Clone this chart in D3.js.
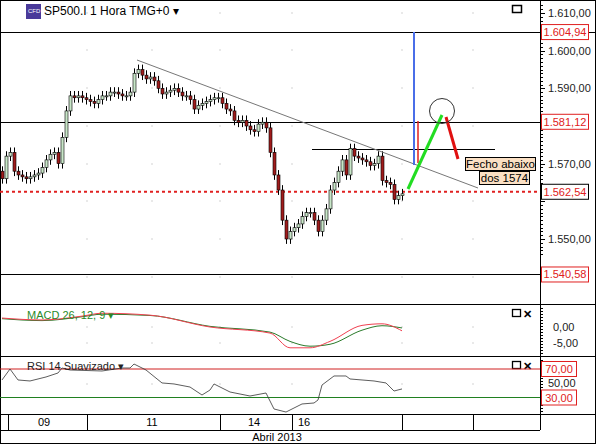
<!DOCTYPE html>
<html><head><meta charset="utf-8">
<script src="https://cdn.jsdelivr.net/npm/d3@7"></script>
<style>body{margin:0;background:#fff}svg{display:block;font-family:Arial,"Liberation Sans",sans-serif}</style>
</head><body><svg id="c" width="596" height="444"></svg>
<script>
const closes=[1566,1572,1573,1568,1567,1566.5,1566,1566.5,1567,1567.5,1569,1571,1572.5,1573,1570,1577,1584,1588,1587.5,1588,1587.5,1587,1586.5,1586,1587,1588,1588,1589,1589,1588.5,1588,1588,1589,1594,1595,1593.5,1592.5,1593,1592,1590,1588.5,1589,1589.5,1590,1589,1588,1588,1587,1584.5,1585.5,1586,1586.5,1587,1587.5,1587.5,1586,1584.5,1584,1581.5,1581,1581.5,1580,1579,1578.5,1580.5,1581,1579.5,1573,1567,1563,1555,1550,1552,1553,1554,1556,1557,1557,1555,1552,1555,1558,1563,1565,1568,1571,1567,1574,1572,1571.5,1571,1570.5,1569.5,1570,1572,1565.5,1565,1564.5,1560.5,1561.5,1562];
const firstOpen=1568;
const macdIdx=[0,10,20,25,37,52,67,72,77,82,90,95,100];
const macdLine=[2.8,2.2,3.4,4.3,3.7,0,-1.9,-6.5,-6.5,-4.5,0.5,1.0,-1.2];
const signalLine=[2.6,2.0,3.2,4.0,3.6,0.2,-1.6,-4.5,-6.0,-5.4,-1.0,0.4,-0.3];
const rsiIdx=[0,2,4,7,11,14,15,17,25,30,32,33,36,40,43,47,50,52,53,57,62,66,68,71,75,78,79,80,83,86,87,90,93,96,98,100];
const rsiVal=[54.6,70,54.6,53.2,58.8,64.4,71.4,68.6,67.2,71.4,71.4,77,68.6,50.4,49,44.7,33.5,40.5,49,37.7,32.1,36.3,13.9,9.6,20.9,22.3,26.5,47.5,60.2,60.2,56,54.6,53.2,50.4,39.1,42];
const priceTicks=[1610,1600,1590,1570,1550];
const priceLabels=[1604.94,1581.12,1562.54,1540.58];
const dayLabels=[{t:"09",x:44},{t:"11",x:152},{t:"14",x:254},{t:"16",x:304}];
const daySeps=[8,87,220,292,402,473];

const svg=d3.select("#c");
const W=596,AX=540;
const fmt=v=>d3.format(",.2f")(v).replace(/,/g,"#").replace(".",",").replace(/#/g,".");
const x=d3.scaleLinear().domain([0,100]).range([2,402]);
const y=d3.scaleLinear().domain([1550,1610]).range([239,13]);
const ym=d3.scaleLinear().domain([-5,0]).range([343,327]);
const yr=d3.scaleLinear().domain([30,70]).range([397.5,369]);

svg.append("rect").attr("x",0.5).attr("y",0.5).attr("width",W-1).attr("height",443).attr("fill","none").attr("stroke","#000");
[32,304,356,414,430].forEach(v=>svg.append("line").attr("x1",0).attr("x2",v==430?AX:W).attr("y1",v+.5).attr("y2",v+.5).attr("stroke","#000"));
svg.append("line").attr("x1",AX+.5).attr("x2",AX+.5).attr("y1",0).attr("y2",430).attr("stroke","#000");
[87,152,220,292,402,473].forEach(gx=>[13,50,88,126,164,201,239,277,327,343,384].forEach(gy=>svg.append("circle").attr("cx",gx).attr("cy",gy).attr("r",.8).attr("fill","#ccc")));

svg.append("rect").attr("x",26).attr("y",4).attr("width",15).attr("height",15).attr("fill","#4a3a9a");
svg.append("text").attr("x",28).attr("y",13).attr("font-size",6).attr("fill","#fff").text("CFD");
svg.append("text").attr("x",44).attr("y",15).attr("font-size",12).text("SP500.I 1 Hora TMG+0 ▾");
svg.append("rect").attr("x",512.5).attr("y",5.5).attr("width",9).attr("height",7).attr("fill","none").attr("stroke","#000").attr("stroke-width",1.5);

[[1604.94,0,AX],[1581.12,0,AX],[1540.58,0,AX],[1574,312,495]].forEach(d=>svg.append("line").attr("x1",d[1]).attr("x2",d[2]).attr("y1",Math.round(y(d[0]))+.5).attr("y2",Math.round(y(d[0]))+.5).attr("stroke","#000"));
svg.append("line").attr("x1",0).attr("x2",AX).attr("y1",y(1562.54)).attr("y2",y(1562.54)).attr("stroke","#e02020").attr("stroke-width",2).attr("stroke-dasharray","3,3");

let prev=firstOpen;
closes.forEach((c,i)=>{
  const o=prev;prev=c;
  const hi=Math.max(o,c)+1.3,lo=Math.min(o,c)-1.3;
  const cx=Math.round(x(i))+.5;
  svg.append("line").attr("x1",cx).attr("x2",cx).attr("y1",y(hi)).attr("y2",y(lo)).attr("stroke","#000");
  const top=y(Math.max(o,c)),h=Math.max(1,y(Math.min(o,c))-top);
  svg.append("rect").attr("x",cx-1.5).attr("y",top).attr("width",3).attr("height",h).attr("fill",c>=o?"#c8e6c8":"#a01c1c").attr("stroke","#000").attr("stroke-width",.6);
});
svg.append("line").attr("x1",137).attr("y1",60).attr("x2",478).attr("y2",188).attr("stroke","#777");
svg.append("line").attr("x1",414).attr("x2",414).attr("y1",32).attr("y2",165).attr("stroke","#4a6ee8").attr("stroke-width",2);
svg.append("line").attr("x1",418).attr("x2",418).attr("y1",121).attr("y2",163).attr("stroke","#e02020").attr("stroke-width",1.5);
svg.append("line").attr("x1",408).attr("y1",189).attr("x2",442).attr("y2",115).attr("stroke","#22dd22").attr("stroke-width",3);
svg.append("line").attr("x1",446).attr("y1",117).attr("x2",458).attr("y2",159).attr("stroke","#e01010").attr("stroke-width",3);
svg.append("circle").attr("cx",442).attr("cy",111).attr("r",12.5).attr("fill","none").attr("stroke","#333");
[["Fecho abaixo",465,157,70],["dos 1574",479,171,50]].forEach(d=>{
  svg.append("rect").attr("x",d[1]+.5).attr("y",d[2]+.5).attr("width",d[3]).attr("height",13).attr("fill","#fbe0c4").attr("stroke","#000");
  svg.append("text").attr("x",d[1]+d[3]/2+.5).attr("y",d[2]+11).attr("text-anchor","middle").attr("font-size",11.5).text(d[0]);
});

for(let v=1546;v<=1612;v++){const yy=Math.round(y(v))+.5;svg.append("line").attr("x1",AX).attr("x2",AX+(v%10==0?5:3)).attr("y1",yy).attr("y2",yy).attr("stroke","#000");}
priceTicks.forEach(v=>svg.append("text").attr("x",548).attr("y",y(v)+4).attr("font-size",11).attr("fill","#222").text(fmt(v)));
priceLabels.forEach(v=>{
  svg.append("rect").attr("x",541.5).attr("y",y(v)-7.5).attr("width",47).attr("height",15).attr("fill","#fff").attr("stroke",v==1562.54?"#000":"#e02020");
  svg.append("text").attr("x",565).attr("y",y(v)+4).attr("text-anchor","middle").attr("font-size",11).attr("fill","#e02020").text(fmt(v));
});

const lm=d3.line().curve(d3.curveMonotoneX);
svg.append("path").attr("d",lm(macdIdx.map((d,i)=>[x(d),ym(signalLine[i])]))).attr("fill","none").attr("stroke","#2a7a2a");
svg.append("path").attr("d",lm(macdIdx.map((d,i)=>[x(d),ym(macdLine[i])]))).attr("fill","none").attr("stroke","#f04050");
svg.append("text").attr("x",27).attr("y",319).attr("font-size",11).attr("fill","#2a8a2a").text("MACD 26, 12, 9 ▾");
for(let yy=308;yy<356;yy+=3)svg.append("line").attr("x1",AX).attr("x2",AX+3).attr("y1",yy+.5).attr("y2",yy+.5).attr("stroke","#000");
[[0,"0,00"],[-5,"-5,00"]].forEach(d=>svg.append("text").attr("x",553).attr("y",ym(d[0])+4).attr("font-size",11).attr("fill","#222").text(d[1]));
[[512,309],[512,361]].forEach(p=>{svg.append("rect").attr("x",p[0]+.5).attr("y",p[1]+.5).attr("width",8).attr("height",7).attr("fill","none").attr("stroke","#000").attr("stroke-width",1.3);
svg.append("text").attr("x",p[0]+11).attr("y",p[1]+9).attr("font-size",11).attr("font-weight","bold").text("✕");});

svg.append("line").attr("x1",0).attr("x2",AX).attr("y1",yr(70)).attr("y2",yr(70)).attr("stroke","#d02020");
svg.append("line").attr("x1",0).attr("x2",AX).attr("y1",yr(30)).attr("y2",yr(30)).attr("stroke","#208020");
svg.append("path").attr("d",d3.line()(rsiIdx.map((d,i)=>[x(d),yr(rsiVal[i])]))).attr("fill","none").attr("stroke","#333").attr("stroke-width",.8);
svg.append("text").attr("x",27).attr("y",370).attr("font-size",11).attr("fill","#222").text("RSI 14 Suavizado ▾");
for(let yy=360;yy<414;yy+=3)svg.append("line").attr("x1",AX).attr("x2",AX+3).attr("y1",yy+.5).attr("y2",yy+.5).attr("stroke","#000");
svg.append("text").attr("x",548).attr("y",yr(50)+4).attr("font-size",11).attr("fill","#222").text("50,00");
[70,30].forEach(v=>{svg.append("rect").attr("x",541.5).attr("y",yr(v)-7.5).attr("width",35).attr("height",15).attr("fill","#fff").attr("stroke","#e02020");
svg.append("text").attr("x",559).attr("y",yr(v)+4).attr("text-anchor","middle").attr("font-size",11).attr("fill","#e02020").text(fmt(v));});

daySeps.forEach(sx=>svg.append("line").attr("x1",sx+.5).attr("x2",sx+.5).attr("y1",414).attr("y2",430).attr("stroke","#000"));
dayLabels.forEach(d=>svg.append("text").attr("x",d.x).attr("y",426).attr("text-anchor","middle").attr("font-size",11).text(d.t));
svg.append("text").attr("x",277).attr("y",441).attr("text-anchor","middle").attr("font-size",11).text("Abril 2013");
</script></body></html>
